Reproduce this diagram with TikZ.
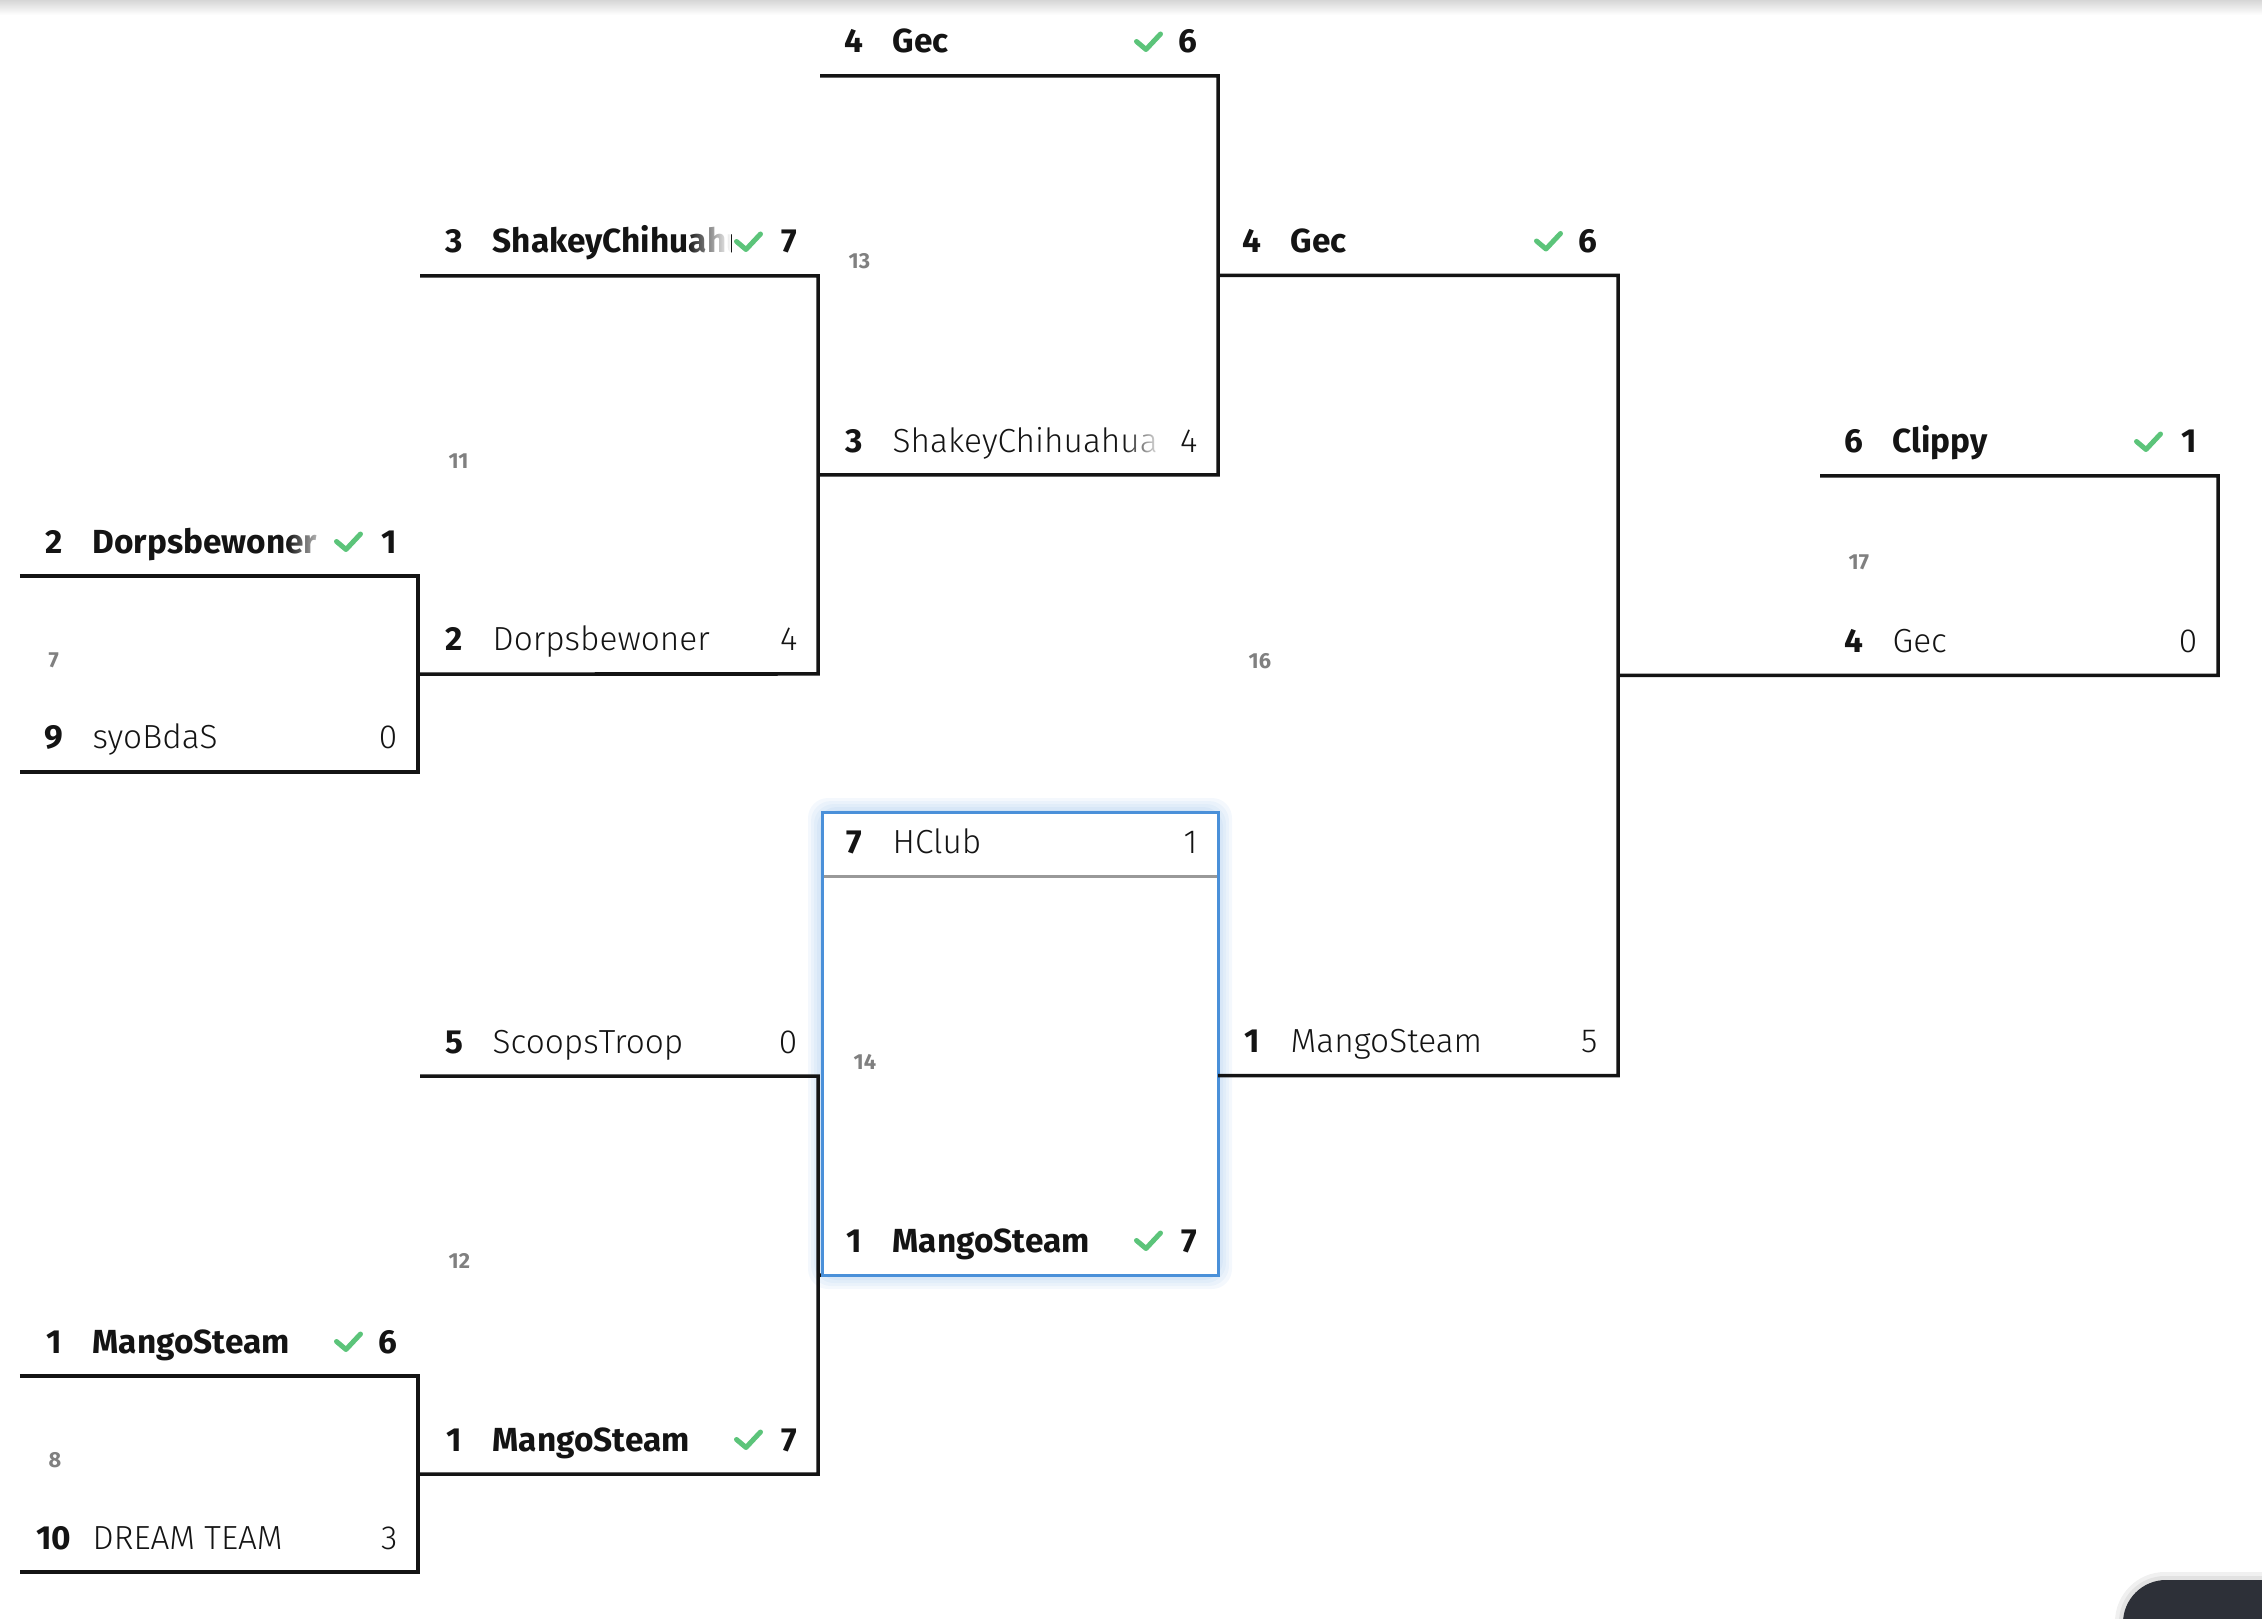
\documentclass[tikz,border=0pt]{standalone}
\usepackage{fontspec}
\setmainfont{Fira Sans}
\IfFontExistsTF{Fira Sans Light}{\newfontfamily\lightfont{Fira Sans Light}}{\newfontfamily\lightfont{Fira Sans}}
\usetikzlibrary{calc,fadings}

\definecolor{ink}{RGB}{20,20,20}
\definecolor{tickgreen}{RGB}{92,196,122}
\definecolor{boxblue}{RGB}{74,144,217}
\definecolor{numgray}{RGB}{128,128,128}
\definecolor{sepgray}{RGB}{153,153,153}
\definecolor{widget}{RGB}{45,48,56}

\newcommand{\rowfont}{\fontsize{9.5}{11}\selectfont}

\tikzset{
  bline/.style={line width=0.35mm,draw=ink},
  sepline/.style={line width=0.3mm,draw=sepgray},
  seedtxt/.style={anchor=base,inner sep=0pt,font=\rowfont\bfseries,text=ink},
  wintxt/.style={anchor=base west,inner sep=0pt,font=\rowfont\bfseries,text=ink},
  losetxt/.style={anchor=base west,inner sep=0pt,font=\rowfont\lightfont,text=ink},
  winscore/.style={anchor=base east,inner sep=0pt,font=\rowfont\bfseries,text=ink},
  losescore/.style={anchor=base east,inner sep=0pt,font=\rowfont\lightfont,text=ink},
  matchno/.style={anchor=west,inner sep=0pt,font=\fontsize{6.2}{7}\selectfont\bfseries,text=numgray},
  checkmark/.pic={\draw[tickgreen,line width=0.5mm,line cap=round,line join=round]
    (-0.115,0.005) -- (-0.02,-0.075) -- (0.125,0.08);}
}

% row of a winner: id, left x, right x, line y, seed, team, score
\newcommand{\winrow}[7]{%
  \node[seedtxt] (#1s) at (#2+0.34,#4+0.23) {#5};
  \begin{scope}
    \clip (#2+0.6,#4+0.05) rectangle (#3-0.87,#4+0.58);
    \node[wintxt] (#1n) at (#2+0.72,#4+0.23) {#6};
  \end{scope}
  \fill[white,path fading=west] (#3-1.31,#4+0.05) rectangle (#3-0.87,#4+0.58);
  \pic at (#3-0.70,#4+0.34) {checkmark};
  \node[winscore] (#1p) at (#3-0.20,#4+0.23) {#7};
}
% row of a loser
\newcommand{\loserow}[7]{%
  \node[seedtxt] (#1s) at (#2+0.34,#4+0.23) {#5};
  \begin{scope}
    \clip (#2+0.6,#4+0.05) rectangle (#3-0.55,#4+0.58);
    \node[losetxt] (#1n) at (#2+0.72,#4+0.23) {#6};
  \end{scope}
  \fill[white,path fading=west] (#3-0.95,#4+0.05) rectangle (#3-0.55,#4+0.58);
  \node[losescore] (#1p) at (#3-0.20,#4+0.23) {#7};
}

\begin{document}
\begin{tikzpicture}
  \useasboundingbox (0,0) rectangle (22.62,16.18);
  \clip (0,0) rectangle (22.62,16.18);
  \shade[top color=black!16,bottom color=white] (0,16.03) rectangle (22.62,16.18);

  % glow of match 14
  \foreach \g in {0.14,0.11,0.08,0.05,0.02}
    \fill[boxblue,opacity=0.06,rounded corners=2mm] (8.22-\g,8.06+\g) rectangle (12.18+\g,3.43-\g);

  % round 1
  \coordinate (m7tl) at (0.20,10.42); \coordinate (m7tr) at (4.18,10.42);
  \coordinate (m7br) at (4.18,8.46);  \coordinate (m7bl) at (0.20,8.46);
  \coordinate (m8tl) at (0.20,2.42);  \coordinate (m8tr) at (4.18,2.42);
  \coordinate (m8br) at (4.18,0.46);  \coordinate (m8bl) at (0.20,0.46);
  \draw[bline] (m7tl) -- (m7tr) -- (m7br) -- (m7bl);
  \draw[bline] (m8tl) -- (m8tr) -- (m8br) -- (m8bl);
  \coordinate (m7o) at ($(m7tr)!0.5!(m7br)$);
  \coordinate (m8o) at ($(m8tr)!0.5!(m8br)$);

  % round 2
  \coordinate (m11tl) at (4.20,13.42); \coordinate (m11tr) at (8.18,13.42);
  \coordinate (m11br) at (8.18,9.44);
  \coordinate (m12tl) at (4.20,5.42);  \coordinate (m12tr) at (8.18,5.42);
  \coordinate (m12br) at (8.18,1.44);
  \draw[bline] (m11tl) -- (m11tr) -- (m11br) -- (m7o);
  \draw[bline] (m12tl) -- (m12tr) -- (m12br) -- (m8o);
  \coordinate (m11o) at ($(m11tr)!0.5!(m11br)$);
  \coordinate (m12o) at ($(m12tr)!0.5!(m12br)$);

  % round 3
  \coordinate (m13tl) at (8.20,15.42); \coordinate (m13tr) at (12.18,15.42);
  \coordinate (m13br) at (12.18,11.43);
  \draw[bline] (m13tl) -- (m13tr) -- (m13br) -- (m11o);
  \coordinate (m13o) at ($(m13tr)!0.5!(m13br)$);
  \coordinate (m14a) at (8.22,8.06);   \coordinate (m14br) at (12.18,3.43);
  \coordinate (m14tl) at (8.22,7.42);  \coordinate (m14tr) at (12.18,7.42);
  \draw[bline] (m12o) -- (m14br);
  \fill[white] (m14a) rectangle (m14br);
  \draw[sepline] (m14tl) -- (m14tr);
  \draw[boxblue,line width=0.3mm] (m14a) rectangle (m14br);
  \coordinate (m14o) at ($(m14tr)!0.5!(m14br)$);

  % round 4 and 17
  \coordinate (m16tr) at (16.18,13.425); \coordinate (m16br) at (16.18,5.425);
  \draw[bline] (m13o) -- (m16tr) -- (m16br) -- (m14o);
  \coordinate (m16o) at ($(m16tr)!0.5!(m16br)$);
  \coordinate (m17tl) at (18.20,11.42); \coordinate (m17tr) at (22.18,11.42);
  \coordinate (m17br) at (22.18,9.425);
  \draw[bline] (m17tl) -- (m17tr) -- (m17br) -- (m16o);

  % teams
  \winrow{r7a}{0.20}{4.18}{10.42}{2}{Dorpsbewoner}{1}
  \loserow{r7b}{0.20}{4.18}{8.46}{9}{syoBdaS}{0}
  \winrow{r8a}{0.20}{4.18}{2.42}{1}{MangoSteam}{6}
  \loserow{r8b}{0.20}{4.18}{0.46}{10}{DREAM TEAM}{3}
  \winrow{r11a}{4.20}{8.18}{13.42}{3}{ShakeyChihuahua}{7}
  \loserow{r11b}{4.20}{8.18}{9.44}{2}{Dorpsbewoner}{4}
  \loserow{r12a}{4.20}{8.18}{5.42}{5}{ScoopsTroop}{0}
  \winrow{r12b}{4.20}{8.18}{1.44}{1}{MangoSteam}{7}
  \winrow{r13a}{8.20}{12.18}{15.42}{4}{Gec}{6}
  \loserow{r13b}{8.20}{12.18}{11.43}{3}{ShakeyChihuahua}{4}
  \loserow{r14a}{8.20}{12.18}{7.42}{7}{HClub}{1}
  \winrow{r14b}{8.20}{12.18}{3.43}{1}{MangoSteam}{7}
  \winrow{r16a}{12.18}{16.18}{13.425}{4}{Gec}{6}
  \loserow{r16b}{12.18}{16.18}{5.425}{1}{MangoSteam}{5}
  \winrow{r17a}{18.20}{22.18}{11.42}{6}{Clippy}{1}
  \loserow{r17b}{18.20}{22.18}{9.425}{4}{Gec}{0}

  % match numbers
  \node[matchno] (n7) at (0.48,9.58) {7};
  \node[matchno] (n8) at (0.48,1.58) {8};
  \node[matchno] (n11) at (4.48,11.57) {11};
  \node[matchno] (n12) at (4.48,3.57) {12};
  \node[matchno] (n13) at (8.48,13.565) {13};
  \node[matchno] (n14) at (8.53,5.565) {14};
  \node[matchno] (n16) at (12.48,9.565) {16};
  \node[matchno] (n17) at (18.48,10.56) {17};

  % widget in the corner
  \fill[black,opacity=0.06,rounded corners=5mm] (21.15,0.46) rectangle (23.2,-0.6);
  \fill[black,opacity=0.06,rounded corners=4.6mm] (21.19,0.42) rectangle (23.2,-0.6);
  \fill[widget,rounded corners=4.3mm] (21.23,0.38) rectangle (23.2,-0.6);
\end{tikzpicture}
\end{document}
